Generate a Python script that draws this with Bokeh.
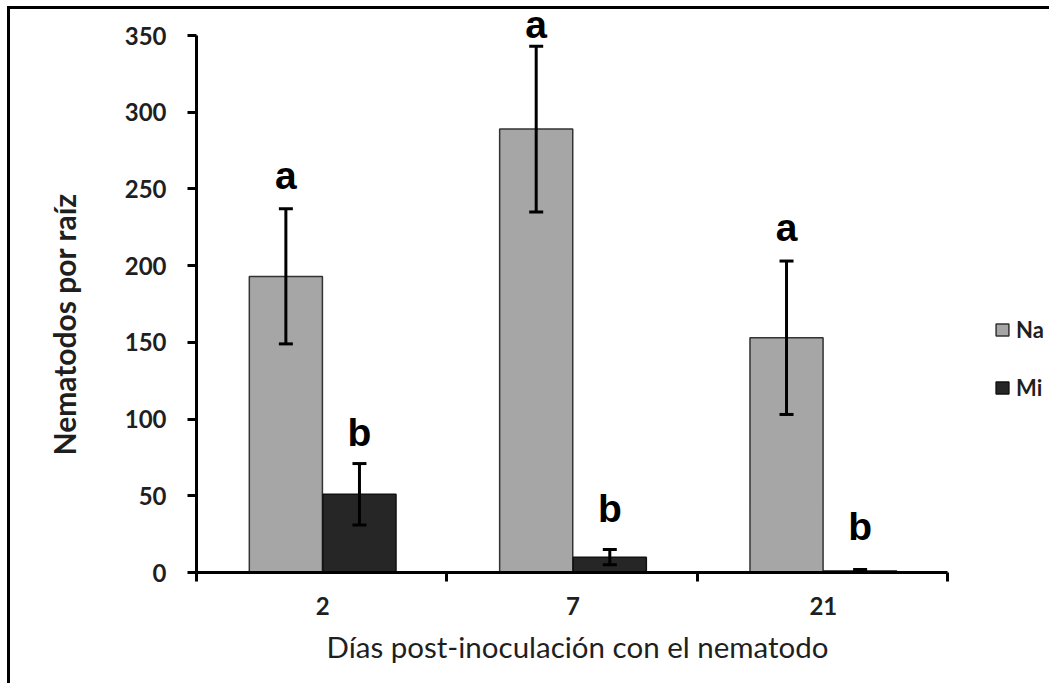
import numpy as np
from bokeh.plotting import figure
from bokeh.models import (ColumnDataSource, Range1d, FixedTicker, Whisker, TeeHead,
                          Legend, LegendItem, Title)
from bokeh.core.properties import value
from bokeh.embed import file_html
from bokeh.resources import INLINE

# ---------------- data ----------------
days = ["2", "7", "21"]
series = ["Na", "Mi"]
na_mean = [193, 289, 153]
na_err = [44, 54, 50]
mi_mean = [51, 10, 1]
mi_err = [20, 5, 1]
na_letters = ["a", "a", "a"]
mi_letters = ["b", "b", "b"]
na_letter_y = [259, 357, 225]
mi_letter_y = [91, 42, 30]
y_ticks = [0, 50, 100, 150, 200, 250, 300, 350]
x_title = "Días post-inoculación con el nematodo"
y_title = "Nematodos por raíz"

# ---------------- layout constants ----------------
W, H = 1049, 683
BL, BR, BT, BB = 196, 0, 0, 111
FW, FH = W - BL - BR, H - BT - BB
X_PX = 250.33              # px per category
Y_PX = 537 / 350           # px per unit
NA_C, MI_C = "#a6a6a6", "#262626"
TXT = "#1f1f1f"
dodge, bw = 0.147, 0.292

centers = [i + 0.504 for i in range(len(days))]
na_x = [c - dodge for c in centers]
mi_x = [c + dodge for c in centers]

p = figure(width=W, height=H, output_backend="svg", toolbar_location=None,
           x_range=Range1d(0, FW / X_PX), y_range=Range1d(0, FH / Y_PX),
           min_border_left=BL, min_border_right=BR, min_border_top=BT,
           min_border_bottom=BB)
p.outline_line_color = None
p.xgrid.visible = False
p.ygrid.visible = False
p.background_fill_alpha = 0
p.border_fill_alpha = 0
# outer frame of the figure panel (left and top edges visible, rest runs off the page)
p.styles = {
    "background-color": "white",
    "background-image": "linear-gradient(black, black), linear-gradient(black, black)",
    "background-size": "3px 100%, 100% 3px",
    "background-position": "7px 6px, 7px 6px",
    "background-repeat": "no-repeat",
}

na_src = ColumnDataSource(dict(x=na_x, top=na_mean, upper=[m + e for m, e in zip(na_mean, na_err)],
                               lower=[m - e for m, e in zip(na_mean, na_err)],
                               lab=na_letters, ly=na_letter_y))
mi_src = ColumnDataSource(dict(x=mi_x, top=mi_mean, upper=[m + e for m, e in zip(mi_mean, mi_err)],
                               lower=[max(m - e, 0) for m, e in zip(mi_mean, mi_err)],
                               lab=mi_letters, ly=mi_letter_y))

r_na = p.vbar(x="x", top="top", width=bw, source=na_src, fill_color=NA_C,
              line_color="#333333", line_width=1.5)
r_mi = p.vbar(x="x", top="top", width=bw, source=mi_src, fill_color=MI_C,
              line_color="#111111", line_width=1.5)

for src in (na_src, mi_src):
    w = Whisker(base="x", upper="upper", lower="lower", source=src, line_width=3,
                line_color="black", level="overlay",
                upper_head=TeeHead(size=14, line_width=3, line_color="black"),
                lower_head=TeeHead(size=14, line_width=3, line_color="black"))
    p.add_layout(w)
    p.text(x="x", y="ly", text="lab", source=src, text_font=value("Liberation Sans"),
           text_font_style="bold", text_font_size="39px", text_align="center",
           text_baseline="alphabetic", text_color="black")

# axes
p.yaxis.ticker = FixedTicker(ticks=y_ticks)
p.yaxis.bounds = (0, 350)
p.xaxis.ticker = FixedTicker(ticks=centers, minor_ticks=list(range(len(days) + 1)))
p.xaxis.major_label_overrides = {c: d for c, d in zip(centers, days)}
p.xaxis.bounds = (0, len(days))
for ax in (p.xaxis[0], p.yaxis[0]):
    ax.axis_line_width = 3
    ax.axis_line_color = "black"
    ax.major_label_text_font = "Lato"
    ax.major_label_text_font_style = "bold"
    ax.major_label_text_font_size = "24px"
    ax.major_label_text_color = TXT
    ax.minor_tick_line_width = 3
    ax.major_tick_line_width = 3
p.yaxis.major_tick_out = 9
p.yaxis.major_tick_in = 0
p.yaxis.minor_tick_line_color = None
p.yaxis.major_label_standoff = 21
p.xaxis.major_tick_line_color = None
p.xaxis.major_tick_out = 0
p.xaxis.major_tick_in = 0
p.xaxis.minor_tick_out = 9
p.xaxis.minor_tick_in = 0
p.xaxis.minor_tick_line_color = "black"
p.xaxis.major_label_standoff = 15

# axis titles
p.add_layout(Title(text=x_title, align="left", offset=130, standoff=19,
                   text_font="Lato", text_font_style="normal", text_font_size="29.5px",
                   text_color=TXT), "below")
p.add_layout(Title(text=y_title, align="left", offset=117, standoff=79,
                   text_font="Lato", text_font_style="bold", text_font_size="30px",
                   text_color=TXT), "left")

# legend
legend = Legend(items=[LegendItem(label=series[0], renderers=[r_na]),
                       LegendItem(label=series[1], renderers=[r_mi])],
                location=(798, 171), padding=0, margin=0, spacing=31,
                glyph_width=16, glyph_height=15, label_height=24, label_standoff=6,
                background_fill_alpha=0, border_line_color=None,
                label_text_font="Lato", label_text_font_style="bold",
                label_text_font_size="22px", label_text_color=TXT)
p.add_layout(legend)

open("out.html", "w").write(file_html(p, INLINE))
